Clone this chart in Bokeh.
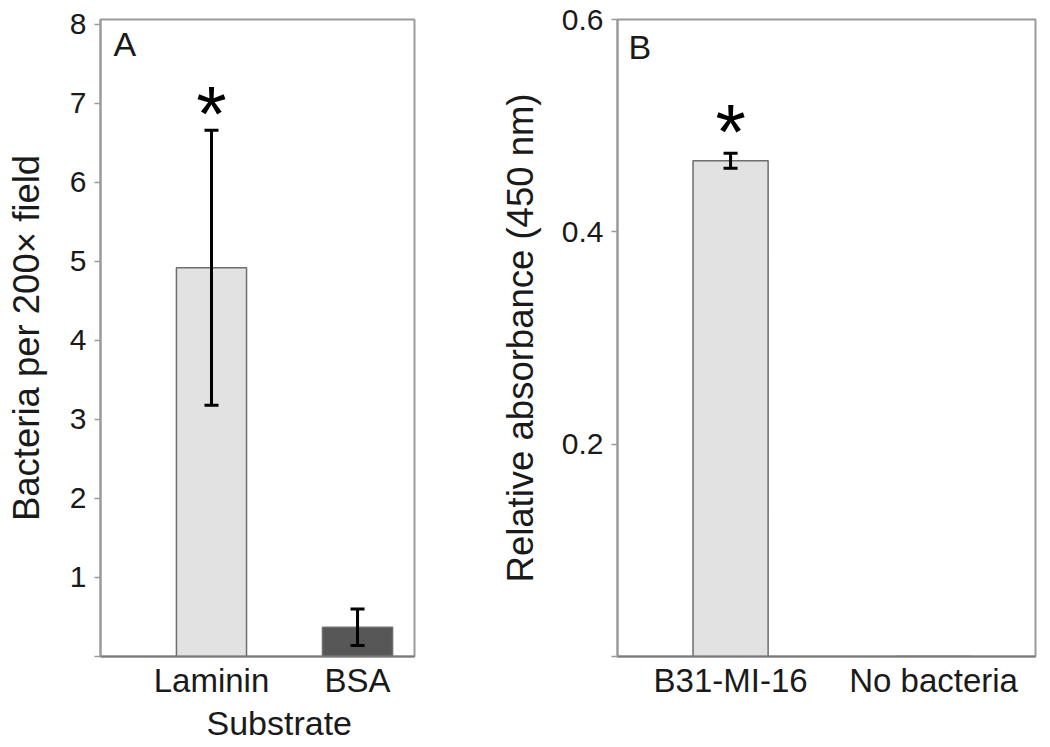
from bokeh.plotting import figure
from bokeh.layouts import row
from bokeh.models import Range1d, FixedTicker, Whisker, ColumnDataSource, Label, TeeHead, Title
from bokeh.core.properties import value
from bokeh.embed import file_html
from bokeh.resources import INLINE

# ---------------- data ----------------
substrates = ["Laminin", "BSA"]
bacteria_mean = [4.92, 0.37]
bacteria_err = [1.74, 0.23]
bacteria_colors = ["#e2e2e2", "#575757"]
bacteria_sig = [True, False]
a_ticks = [0, 1, 2, 3, 4, 5, 6, 7, 8]

strains = ["B31-MI-16", "No bacteria"]
absorbance_mean = [0.467, 0.0]
absorbance_err = [0.007, 0.0]
absorbance_colors = ["#e2e2e2", "#e2e2e2"]
absorbance_sig = [True, False]
b_ticks = [0, 0.2, 0.4, 0.6]

FONT = "Liberation Sans"
GRAY = "#9a9a9a"
TXT = "#1a1a1a"


def style(p, ticks, y_label):
    p.outline_line_color = GRAY
    p.outline_line_width = 2
    p.xgrid.visible = False
    p.ygrid.visible = False
    p.background_fill_color = "white"
    p.border_fill_color = "white"

    ya = p.yaxis[0]
    ya.ticker = FixedTicker(ticks=ticks)
    ya.major_label_overrides = {0: ""}
    ya.axis_line_color = GRAY
    ya.axis_line_width = 2
    ya.major_tick_line_color = GRAY
    ya.major_tick_line_width = 1.5
    ya.major_tick_out = 6
    ya.major_tick_in = 0
    ya.minor_tick_line_color = None
    ya.major_label_text_font = FONT
    ya.major_label_text_font_size = "30px"
    ya.major_label_text_color = TXT
    ya.major_label_standoff = 8
    ya.axis_label = y_label
    ya.axis_label_text_font = FONT
    ya.axis_label_text_font_size = "36.5px"
    ya.axis_label_text_font_style = "normal"
    ya.axis_label_text_color = TXT

    xa = p.xaxis[0]
    xa.axis_line_color = "#7a7a7a"
    xa.axis_line_width = 2
    xa.major_tick_line_color = None
    xa.major_tick_out = 0
    xa.major_tick_in = 0
    xa.minor_tick_line_color = None
    xa.major_label_text_font = FONT
    xa.major_label_text_font_size = "33px"
    xa.major_label_text_color = TXT
    xa.major_label_standoff = 5


def panel(cats, means, errs, colors, sig, ticks, x_rng, y_top, width, height,
          borders, bar_w, y_label, letter, letter_off, star_off):
    xs = list(range(1, len(cats) + 1))
    p = figure(width=width, height=height, x_range=Range1d(*x_rng),
               y_range=Range1d(0, y_top), output_backend="svg",
               toolbar_location=None, tools="",
               min_border_left=borders[0], min_border_right=borders[1],
               min_border_top=borders[2], min_border_bottom=borders[3])
    style(p, ticks, y_label)
    p.xaxis[0].ticker = FixedTicker(ticks=xs)
    p.xaxis[0].major_label_overrides = {x: c for x, c in zip(xs, cats)}

    src = ColumnDataSource(dict(x=xs, top=means, color=colors))
    p.vbar(x="x", top="top", width=bar_w, bottom=0, source=src,
           fill_color="color", line_color="#6e6e6e", line_width=1.5)

    ex = [x for x, e in zip(xs, errs) if e > 0]
    eu = [m + e for m, e in zip(means, errs) if e > 0]
    el = [m - e for m, e in zip(means, errs) if e > 0]
    esrc = ColumnDataSource(dict(x=ex, upper=eu, lower=el))
    w = Whisker(source=esrc, base="x", upper="upper", lower="lower",
                line_color="black", line_width=3, level="overlay",
                upper_head=TeeHead(size=14, line_width=3, line_color="black"),
                lower_head=TeeHead(size=14, line_width=3, line_color="black"))
    p.add_layout(w)

    sx = [x for x, s in zip(xs, sig) if s]
    sy = [m + e for m, e, s in zip(means, errs, sig) if s]
    p.text(x=sx, y=sy, text=["*"] * len(sx), text_font=value(FONT),
           text_font_size="78px", text_align="center", text_baseline="middle",
           y_offset=star_off, text_color="black")

    p.add_layout(Label(x=x_rng[0], y=y_top, text=letter, x_offset=letter_off[0],
                       y_offset=letter_off[1], text_baseline="top",
                       text_font=FONT, text_font_size="34px",
                       text_color=TXT))
    return p


pA = panel(substrates, bacteria_mean, bacteria_err, bacteria_colors, bacteria_sig,
           a_ticks, (0.24, 2.39), 8.06, 460, 745, (100, 46, 19, 89), 0.48,
           "Bacteria per 200\u00d7 field", "A", (13, -5), -16)
pB = panel(strains, absorbance_mean, absorbance_err, absorbance_colors, absorbance_sig,
           b_ticks, (0.443, 2.502), 0.6, 580, 745, (157, 5, 19, 89), 0.37,
           "Relative absorbance (450 nm)", "B", (11, -8), -21)
pA.yaxis[0].axis_label_standoff = 20
pB.yaxis[0].axis_label_standoff = 18

# x-axis title of panel A, centred between the two categories
pA.add_layout(Title(text="Substrate", align="left", offset=106, standoff=0,
                    text_font=FONT, text_font_size="34px",
                    text_font_style="normal", text_color=TXT), "below")

layout = row(pA, pB)
open("out.html", "w").write(file_html(layout, INLINE))
